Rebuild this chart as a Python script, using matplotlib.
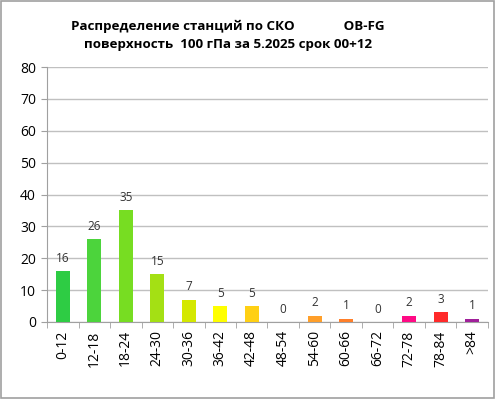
import matplotlib
matplotlib.use("Agg")
import matplotlib.pyplot as plt
from matplotlib.patches import Rectangle
import numpy as np

plt.rcParams['font.family'] = ['Open Sans', 'DejaVu Sans']

categories = ['0-12', '12-18', '18-24', '24-30', '30-36', '36-42', '42-48',
              '48-54', '54-60', '60-66', '66-72', '72-78', '78-84', '>84']
counts = [16, 26, 35, 15, 7, 5, 5, 0, 2, 1, 0, 2, 3, 1]
colors = ['#2ECC44', '#4CD43C', '#77DD22', '#A4E014', '#D4E800', '#FFFF00',
          '#FFD014', '#FFB020', '#FF9F2A', '#FF7F2A', '#FF5050', '#FF0A85',
          '#FF2A2A', '#A0209A']

fig = plt.figure(figsize=(4.96, 3.99), dpi=100)
ax = fig.add_axes([0.0948, 0.193, 0.889, 0.639])

x = np.arange(len(categories))
ax.bar(x, counts, width=0.44, color=colors, zorder=3)
for xi, v in zip(x, counts):
    ax.text(xi, v + 2, str(v), ha='center', va='bottom', fontsize=8.5, color='#333333')

ax.set_xlim(-0.5, len(categories) - 0.5)
ax.set_ylim(0, 80)
ax.set_yticks(range(0, 81, 10))
ax.yaxis.grid(True, color='#C0C0C0', lw=1, zorder=0)
ax.set_xticks(x)
ax.set_xticklabels(categories, rotation=90, fontsize=10)
ax.set_xticks(np.arange(-0.5, len(categories), 1), minor=True)
ax.tick_params(axis='x', which='major', length=0, pad=6)
ax.tick_params(axis='x', which='minor', length=4, color='#A0A0A0', direction='out')
ax.tick_params(axis='y', length=4, color='#A0A0A0', labelsize=10, pad=4)
for side in ['top', 'right']:
    ax.spines[side].set_visible(False)
ax.spines['left'].set_color('#A0A0A0')
ax.spines['bottom'].set_color('#A0A0A0')

fig.text(0.46, 0.935, 'Распределение станций по СКО              OB-FG',
         ha='center', va='center', fontsize=9.6, fontweight='bold')
fig.text(0.46, 0.888, 'поверхность  100 гПа за 5.2025 срок 00+12',
         ha='center', va='center', fontsize=9.6, fontweight='bold')

fig.patches.append(Rectangle((0.002, 0.003), 0.994, 0.994, transform=fig.transFigure,
                             fill=False, edgecolor='#A0A0A0', lw=1.2))

fig.savefig('out.png', dpi=100)
